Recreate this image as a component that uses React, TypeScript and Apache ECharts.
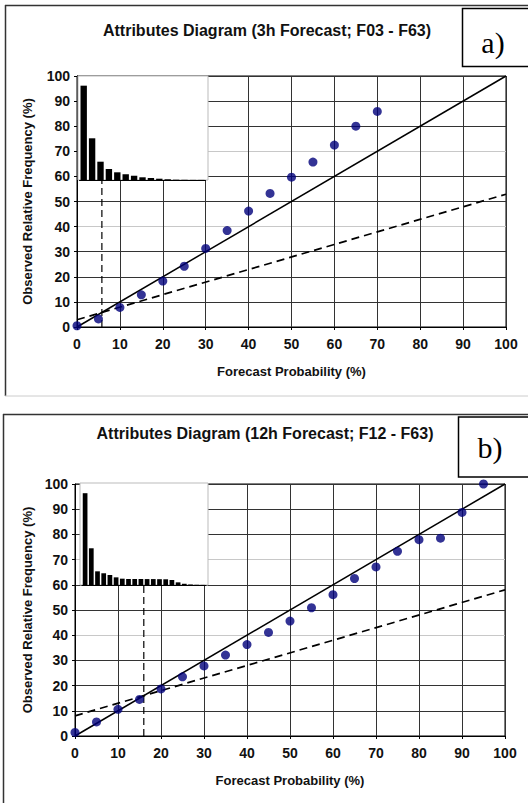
import React, { useEffect, useRef } from "react";
import * as echarts from "echarts";

// ---- data ----
const probBinsA = [0, 5, 10, 15, 20, 25, 30, 35, 40, 45, 50, 55, 60, 65, 70];
const observedA = [0.5, 3.2, 7.8, 12.8, 18.3, 24.2, 31.3, 38.4, 46.2, 53.2, 59.7, 65.7, 72.5, 80, 85.9];
const histA = [90.7, 40.1, 17.6, 10.6, 7.4, 5.5, 4.1, 2.6, 1.9, 1.25, 0.7, 0.3, 0.2, 0.1, 0.1];

const probBinsB = [0, 5, 10, 15, 20, 25, 30, 35, 40, 45, 50, 55, 60, 65, 70, 75, 80, 85, 90, 95];
const observedB = [1.4, 5.6, 10.6, 14.5, 18.7, 23.5, 27.8, 32.1, 36.3, 41.1, 45.6, 50.9, 56.1, 62.5, 67.1, 73.3, 77.9, 78.5, 88.7, 100];
const histB = [90, 36, 13.4, 11.5, 9.8, 7.5, 6.2, 6, 5.9, 5.9, 5.8, 5.8, 5.7, 5.6, 4.9, 2.6, 1.2, 0.5, 0.2, 0.1];

const perfectLine = [[0, 0], [100, 100]];
const noSkillA = [[0, 2.9], [100, 52.9]];
const noSkillB = [[0, 8], [100, 58]];
const climA = [[5.8, 0], [5.8, 60]];
const climB = [[16, 0], [16, 60]];

const axisMin = 0;
const axisMax = 100;
const axisStep = 10;

const titleA = "Attributes Diagram (3h Forecast; F03 - F63)";
const titleB = "Attributes Diagram (12h Forecast; F12 - F63)";
const xName = "Forecast Probability (%)";
const yName = "Observed Relative Frequency (%)";

const FONT = '"Liberation Sans", Arial, sans-serif';
const DARK = "#333";
const LIGHT = "#c8c8c8";
const ySplitColors = [DARK, DARK, DARK, DARK, LIGHT, DARK, DARK, LIGHT, DARK, DARK, DARK];

function mainX(gridIndex: number) {
  return {
    gridIndex,
    type: "value",
    min: axisMin,
    max: axisMax,
    interval: axisStep,
    axisLine: { lineStyle: { color: "#000", width: 1 } },
    axisTick: { show: true, length: 3, lineStyle: { color: "#000" } },
    axisLabel: { fontSize: 14, fontWeight: "bold", color: "#111", fontFamily: FONT, margin: 10 },
    splitLine: { show: true, lineStyle: { color: DARK, width: 1 } },
    name: xName,
    nameLocation: "middle",
    nameGap: 38,
    nameTextStyle: { fontSize: 13, fontWeight: "bold", color: "#111", fontFamily: FONT },
  };
}

function mainY(gridIndex: number, nameGap: number) {
  return {
    gridIndex,
    type: "value",
    min: axisMin,
    max: axisMax,
    interval: axisStep,
    axisLine: { show: true, lineStyle: { color: "#000", width: 1 } },
    axisTick: { show: true, length: 3, lineStyle: { color: "#000" } },
    axisLabel: { fontSize: 14, fontWeight: "bold", color: "#111", fontFamily: FONT, margin: 7 },
    splitLine: { show: true, lineStyle: { color: ySplitColors, width: 1 } },
    name: yName,
    nameLocation: "middle",
    nameGap,
    nameTextStyle: { fontSize: 13, fontWeight: "bold", color: "#111", fontFamily: FONT },
  };
}

function insetX(gridIndex: number, cats: number[]) {
  return {
    gridIndex,
    type: "category",
    data: cats,
    z: 4,
    axisLine: { show: true, lineStyle: { color: "#000", width: 1 } },
    axisTick: { show: false },
    axisLabel: { show: false },
    splitLine: { show: false },
  };
}

function insetY(gridIndex: number) {
  return {
    gridIndex,
    type: "value",
    min: 0,
    max: 100,
    show: false,
    splitLine: { show: false },
  };
}

export default function App() {
  const ref = useRef<HTMLDivElement>(null);
  useEffect(() => {
    if (!ref.current) return;
    const chart = echarts.init(ref.current, null, { renderer: "svg" });
    const lineBase = { type: "line", symbol: "none", silent: true };
    const titleFont = `bold 16px ${FONT}`;
    const boxFont = `30px "Liberation Serif", "Times New Roman", serif`;
    const option: any = {
      animation: false,
      backgroundColor: "#fff",
      grid: [
        { left: 77, top: 76, width: 429, height: 251, show: true, borderColor: "#000", borderWidth: 1, backgroundColor: "transparent" },
        { left: 75, top: 484, width: 430, height: 252, show: true, borderColor: "#000", borderWidth: 1, backgroundColor: "transparent" },
        { left: 79.5, top: 76, width: 126, height: 104, z: 4 },
        { left: 82, top: 483, width: 124, height: 102, z: 4 },
      ],
      xAxis: [mainX(0), mainX(1), insetX(2, probBinsA), insetX(3, probBinsB)],
      yAxis: [mainY(0, 43), mainY(1, 41), insetY(2), insetY(3)],
      series: [
        { ...lineBase, xAxisIndex: 0, yAxisIndex: 0, data: perfectLine, lineStyle: { color: "#000", width: 1.5 }, z: 3 },
        { ...lineBase, xAxisIndex: 0, yAxisIndex: 0, data: noSkillA, lineStyle: { color: "#000", width: 1.7, type: [8, 5] }, z: 3 },
        { ...lineBase, xAxisIndex: 0, yAxisIndex: 0, data: climA, lineStyle: { color: "#000", width: 1.2, type: [7, 4] }, z: 3 },
        {
          type: "scatter", xAxisIndex: 0, yAxisIndex: 0, symbol: "circle", symbolSize: 9,
          itemStyle: { color: "#00007a" }, z: 6,
          data: probBinsA.map((p, i) => [p, observedA[i]]),
        },
        { type: "bar", xAxisIndex: 2, yAxisIndex: 2, data: histA, barWidth: "76%", itemStyle: { color: "#000" }, z: 5 },

        { ...lineBase, xAxisIndex: 1, yAxisIndex: 1, data: perfectLine, lineStyle: { color: "#000", width: 1.5 }, z: 3 },
        { ...lineBase, xAxisIndex: 1, yAxisIndex: 1, data: noSkillB, lineStyle: { color: "#000", width: 1.7, type: [8, 5] }, z: 3 },
        { ...lineBase, xAxisIndex: 1, yAxisIndex: 1, data: climB, lineStyle: { color: "#000", width: 1.2, type: [7, 4] }, z: 3 },
        {
          type: "scatter", xAxisIndex: 1, yAxisIndex: 1, symbol: "circle", symbolSize: 9,
          itemStyle: { color: "#00007a" }, z: 6,
          data: probBinsB.map((p, i) => [p, observedB[i]]),
        },
        { type: "bar", xAxisIndex: 3, yAxisIndex: 3, data: histB, barWidth: "76%", itemStyle: { color: "#000" }, z: 5 },
      ],
      graphic: [
        // panel frames
        { type: "line", z: 1, shape: { x1: 5.5, y1: 5, x2: 5.5, y2: 396 }, style: { stroke: "#333", lineWidth: 1.5 } },
        { type: "line", z: 1, shape: { x1: 5, y1: 5.5, x2: 528, y2: 5.5 }, style: { stroke: "#333", lineWidth: 1.5 } },
        { type: "line", z: 1, shape: { x1: 5, y1: 396, x2: 528, y2: 396 }, style: { stroke: "#ccc", lineWidth: 1 } },
        { type: "line", z: 1, shape: { x1: 3, y1: 414.5, x2: 528, y2: 414.5 }, style: { stroke: "#333", lineWidth: 1.5 } },
        { type: "line", z: 1, shape: { x1: 3.5, y1: 414, x2: 3.5, y2: 803 }, style: { stroke: "#333", lineWidth: 1.5 } },
        // inset backgrounds
        { type: "rect", z: 3, shape: { x: 78, y: 76, width: 130, height: 104 }, style: { fill: "#fff", stroke: "#bbb", lineWidth: 1 } },
        { type: "rect", z: 3, shape: { x: 80, y: 483, width: 128, height: 102 }, style: { fill: "#fff", stroke: "#bbb", lineWidth: 1 } },
        // titles
        { type: "text", z: 10, x: 267, y: 30, style: { text: titleA, fill: "#111", font: titleFont, align: "center", verticalAlign: "middle", textAlign: "center", textVerticalAlign: "middle" } },
        { type: "text", z: 10, x: 265, y: 433, style: { text: titleB, fill: "#111", font: titleFont, align: "center", verticalAlign: "middle", textAlign: "center", textVerticalAlign: "middle" } },
        // panel label boxes
        { type: "rect", z: 10, shape: { x: 462.5, y: 8.5, width: 80, height: 58 }, style: { fill: "#fff", stroke: "#000", lineWidth: 1.5 } },
        { type: "text", z: 11, x: 493, y: 42, style: { text: "a)", fill: "#000", font: boxFont, align: "center", verticalAlign: "middle", textAlign: "center", textVerticalAlign: "middle" } },
        { type: "rect", z: 10, shape: { x: 458.5, y: 417, width: 80, height: 60 }, style: { fill: "#fff", stroke: "#000", lineWidth: 1.5 } },
        { type: "text", z: 11, x: 490, y: 447, style: { text: "b)", fill: "#000", font: boxFont, align: "center", verticalAlign: "middle", textAlign: "center", textVerticalAlign: "middle" } },
      ],
    };
    chart.setOption(option);
    return () => chart.dispose();
  }, []);
  return (
    <div
      ref={ref}
      style={{ position: "fixed", left: 0, top: 0, width: 528, height: 803, background: "#fff" }}
    />
  );
}
